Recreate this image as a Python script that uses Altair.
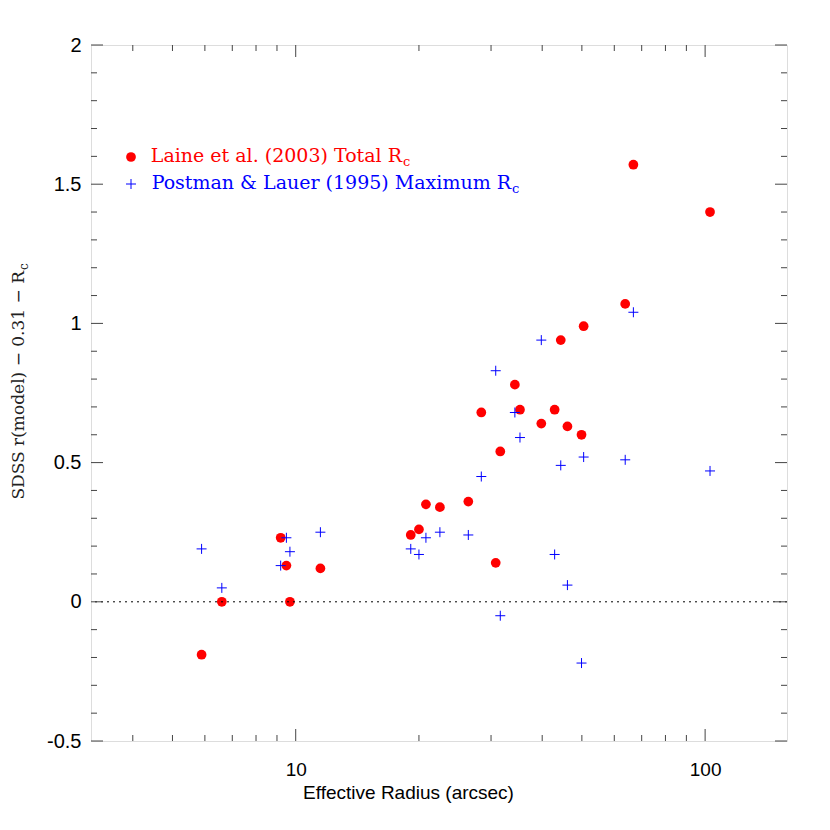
import altair as alt
import pandas as pd

# Effective radius (arcsec) of each galaxy
radius = [5.89, 6.60, 9.19, 9.49, 9.68, 11.49, 19.1, 20.0, 20.8, 22.5, 26.4, 28.4,
          30.8, 31.6, 34.3, 35.3, 39.8, 42.9, 44.4, 46.1, 49.9, 50.5, 63.8, 66.8, 102.8]
# Laine et al. (2003) Total Rc
laine = [-0.19, 0.00, 0.23, 0.13, 0.00, 0.12, 0.24, 0.26, 0.35, 0.34, 0.36, 0.68,
         0.14, 0.54, 0.78, 0.69, 0.64, 0.69, 0.94, 0.63, 0.60, 0.99, 1.07, 1.57, 1.40]
# Postman & Lauer (1995) Maximum Rc
postman = [0.19, 0.05, 0.13, 0.23, 0.18, 0.25, 0.19, 0.17, 0.23, 0.25, 0.24, 0.45,
           0.83, -0.05, 0.68, 0.59, 0.94, 0.17, 0.49, 0.06, -0.22, 0.52, 0.51, 1.04, 0.47]

x_major = [10, 100]
x_minor = [4, 5, 6, 7, 8, 9, 20, 30, 40, 50, 60, 70, 80, 90]
y_major = [-0.5, 0, 0.5, 1, 1.5, 2]
y_minor = [-0.4, -0.3, -0.2, -0.1, 0.1, 0.2, 0.3, 0.4, 0.6, 0.7, 0.8, 0.9,
           1.1, 1.2, 1.3, 1.4, 1.6, 1.7, 1.8, 1.9]

legend_labels = ["Laine et al. (2003) Total R", "Postman & Lauer (1995) Maximum R"]
subscript = "c"
y_title = "SDSS r(model) \u2212 0.31 \u2212 R"
x_title = "Effective Radius (arcsec)"

W, H = 696, 696
xs = alt.Scale(type="log", domain=[10 ** 0.5, 10 ** 2.2], nice=False)
ys = alt.Scale(domain=[-0.5, 2], nice=False, zero=False)

df = pd.DataFrame({"r": radius, "laine": laine, "postman": postman})
AX = "#444444"
SANS = "Liberation Sans"
SERIF = "DejaVu Serif"
PLUS = "M-1,0L1,0M0,-1L0,1"

xaxis = alt.Axis(values=x_major, labelExpr="toString(datum.value)", ticks=False, domain=False,
                 grid=False, labelFont=SANS, labelFontSize=19, labelColor="black",
                 labelPadding=19, title=x_title, titleFont=SANS, titleFontSize=19,
                 titleFontWeight="normal", titleColor="black", titlePadding=4, titleX=317)
yaxis = alt.Axis(values=y_major, labelExpr="toString(datum.value)", ticks=False, domain=False,
                 grid=False, labelFont=SANS, labelFontSize=20, labelColor="black",
                 labelPadding=10)

base = alt.Chart(df)
red = base.mark_point(filled=True, color="red", size=95, opacity=1).encode(
    x=alt.X("r:Q", scale=xs, axis=xaxis),
    y=alt.Y("laine:Q", scale=ys, axis=yaxis, title=None),
)
blue = base.mark_point(shape=PLUS, filled=False, color="blue",
                       size=100, strokeWidth=1, opacity=1).encode(
    x=alt.X("r:Q", scale=xs),
    y=alt.Y("postman:Q", scale=ys),
)

zero = alt.Chart(pd.DataFrame({"v": [0]})).mark_rule(
    color="black", strokeDash=[2, 4], strokeWidth=1).encode(y=alt.Y("v:Q", scale=ys))


def xticks(vals, L):
    d = alt.Chart(pd.DataFrame({"v": vals}))
    bot = d.mark_rule(color=AX, strokeWidth=1).encode(
        x=alt.X("v:Q", scale=xs), y=alt.value(H), y2=alt.value(H - L))
    top = d.mark_rule(color=AX, strokeWidth=1).encode(
        x=alt.X("v:Q", scale=xs), y=alt.value(0), y2=alt.value(L))
    return [bot, top]


def yticks(vals, L):
    d = alt.Chart(pd.DataFrame({"v": vals}))
    lft = d.mark_rule(color=AX, strokeWidth=1).encode(
        y=alt.Y("v:Q", scale=ys), x=alt.value(0), x2=alt.value(L))
    rgt = d.mark_rule(color=AX, strokeWidth=1).encode(
        y=alt.Y("v:Q", scale=ys), x=alt.value(W - L), x2=alt.value(W))
    return [lft, rgt]


ticks = xticks(x_major, 12) + xticks(x_minor, 6) + yticks(y_major, 12) + yticks(y_minor, 6)

one = alt.Chart(pd.DataFrame({"a": [0]}))
leg_dot = one.mark_point(filled=True, color="red", size=95, opacity=1).encode(
    x=alt.value(40), y=alt.value(112))
leg_plus = one.mark_point(shape=PLUS, filled=False, color="blue", size=100,
                          strokeWidth=1, opacity=1).encode(x=alt.value(40), y=alt.value(139))
leg_t1 = one.mark_text(text=legend_labels[0], font=SERIF, fontSize=19, color="red",
                       align="right", baseline="alphabetic").encode(
    x=alt.value(311), y=alt.value(117))
leg_s1 = one.mark_text(text=subscript, font=SERIF, fontSize=13, color="red",
                       align="left", baseline="alphabetic").encode(
    x=alt.value(312), y=alt.value(121))
leg_t2 = one.mark_text(text=legend_labels[1], font=SERIF, fontSize=19, color="blue",
                       align="right", baseline="alphabetic").encode(
    x=alt.value(420), y=alt.value(144))
leg_s2 = one.mark_text(text=subscript, font=SERIF, fontSize=13, color="blue",
                       align="left", baseline="alphabetic").encode(
    x=alt.value(421), y=alt.value(148))

yt = one.mark_text(text=y_title, font=SERIF, fontSize=17, color="#222222", angle=270,
                   align="right", baseline="alphabetic").encode(
    x=alt.value(-67), y=alt.value(226))
yt_s = one.mark_text(text=subscript, font=SERIF, fontSize=12, color="#222222", angle=270,
                     align="left", baseline="alphabetic").encode(
    x=alt.value(-63), y=alt.value(225))

chart = alt.layer(red, blue, zero, *ticks, leg_dot, leg_plus, leg_t1, leg_s1, leg_t2, leg_s2,
                  yt, yt_s).properties(
    width=W, height=H,
    autosize=alt.AutoSizeParams(type="none"),
    padding={"left": 83, "top": 37, "right": 30, "bottom": 80},
).configure_view(stroke=AX, strokeWidth=1).configure(background="white")

chart.save("out.html", embed_options={"renderer": "svg", "actions": False})
